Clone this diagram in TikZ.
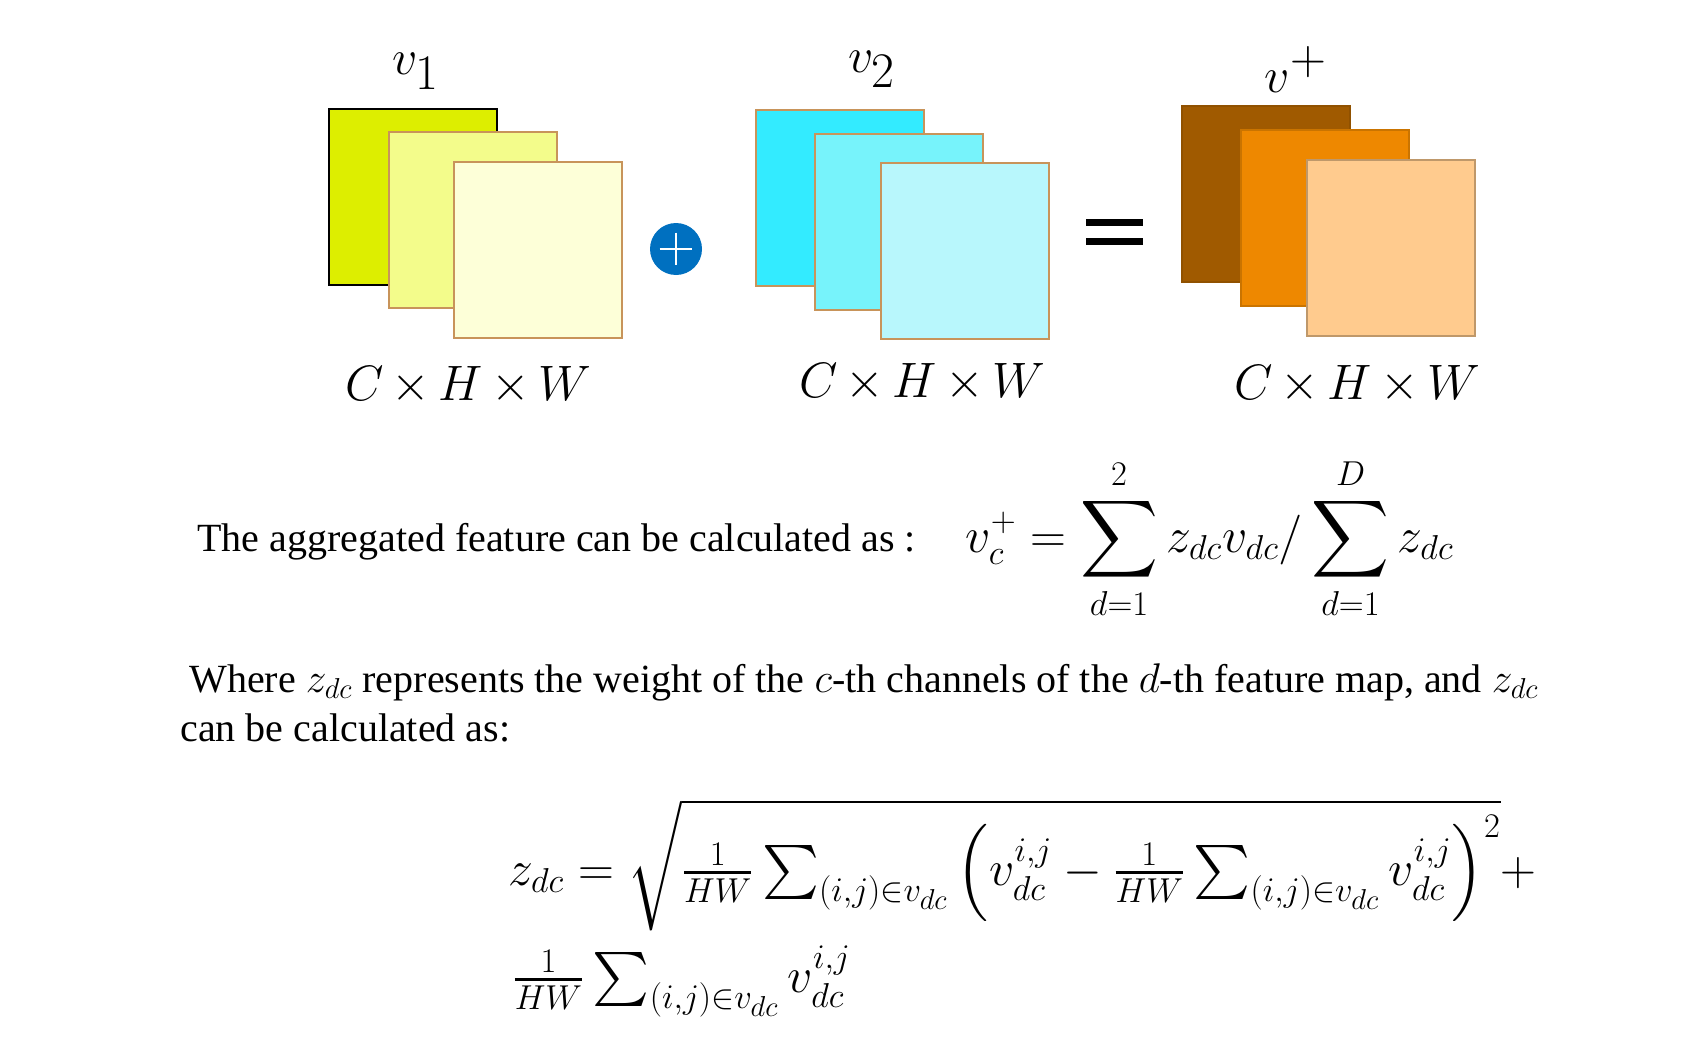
\documentclass[tikz,border=0pt]{standalone}
\usepackage[no-math]{fontspec}
\setmainfont{Liberation Serif}
\usepackage{amsmath,amssymb}
\usetikzlibrary{positioning}
\definecolor{ylwA}{HTML}{DDEE00}
\definecolor{ylwB}{HTML}{F3FC8B}
\definecolor{ylwC}{HTML}{FDFFD8}
\definecolor{cynA}{HTML}{33EBFF}
\definecolor{cynB}{HTML}{77F3FB}
\definecolor{cynC}{HTML}{B8F7FC}
\definecolor{orgA}{HTML}{A05A00}
\definecolor{orgB}{HTML}{EE8800}
\definecolor{orgC}{HTML}{FFCB8E}
\definecolor{mapedge}{HTML}{C8945A}
\definecolor{addblue}{HTML}{0070C0}
\newcommand{\tm}[1]{{\fontsize{21}{24}\selectfont$#1$}}

\begin{document}
\begin{tikzpicture}[
  x=0.5pt, y=-0.5pt,
  fmap/.style={draw=mapedge, line width=0.9pt, anchor=north west, inner sep=0pt, minimum width=84pt, minimum height=88pt},
  lbl/.style={anchor=base, inner sep=0pt, font=\fontsize{35}{38}\selectfont},
  dims/.style={anchor=base, inner sep=0pt, font=\fontsize{25}{28}\selectfont},
  txt/.style={anchor=base west, inner sep=0pt, font=\fontsize{20}{24}\selectfont},
  eqn/.style={anchor=base west, inner sep=0pt, font=\fontsize{27}{30}\selectfont},
  bar/.style={fill=black, inner sep=0pt, minimum width=28.5pt, minimum height=3.5pt},
  addop/.style={circle, fill=addblue, inner sep=0pt, minimum size=26pt}
]
  \useasboundingbox (0,0) rectangle (1696,1054);
  % first input
  \node[fmap, draw=black, fill=ylwA] (a1) at (328,108) {};
  \node[fmap, fill=ylwB] (a2) at (388,131) {};
  \node[fmap, fill=ylwC] (a3) at (453,161) {};
  \node[lbl] (va) at (416,75) {$v_1$};
  \node[dims] (da) at (468,400) {$C\,{\times}\,H\,{\times}\,W$};
  % second input
  \node[fmap, fill=cynA] (b1) at (755,109) {};
  \node[fmap, fill=cynB] (b2) at (814,133) {};
  \node[fmap, fill=cynC] (b3) at (880,162) {};
  \node[lbl] (vb) at (872,73) {$v_2$};
  \node[dims] (db) at (922,397) {$C\,{\times}\,H\,{\times}\,W$};
  % output
  \node[fmap, draw=orgA!90!black, fill=orgA] (c1) at (1181,105) {};
  \node[fmap, draw=orgB!85!black, fill=orgB] (c2) at (1240,129) {};
  \node[fmap, draw=orgC!75!black, fill=orgC] (c3) at (1306,159) {};
  \node[lbl] (vc) at (1296,93) {$v^{+}$};
  \node[dims] (dc) at (1357,399) {$C\,{\times}\,H\,{\times}\,W$};
  % operators
  \node[addop] (add) at (676,249) {};
  \draw[white, line width=1.2pt] ([xshift=5pt]add.west) -- ([xshift=-5pt]add.east);
  \draw[white, line width=1.2pt] ([yshift=-5pt]add.north) -- ([yshift=5pt]add.south);
  \node[bar] (eqtop) at (1114.5,222.5) {};
  \node[bar, below=5.5pt of eqtop] (eqbot) {};
  % formulas
  \node[txt] (agg) at (197,551) {The aggregated feature can be calculated as :};
  \node[eqn] (aggeq) at (965,552) {$\displaystyle v_c^{+} = \sum_{d=1}^{2} z_{dc}v_{dc}/\sum_{d=1}^{D} z_{dc}$};
  \node[txt] (where) at (189,692) {Where \tm{z_{dc}} represents the weight of the \tm{c}-th channels of the \tm{d}-th feature map, and \tm{z_{dc}}};
  \node[txt] (where2) at (180,741) {can be calculated as:};
  \node[eqn] (zeq) at (508,885) {$z_{dc} = \sqrt{\frac{1}{HW}\sum_{(i,j)\in v_{dc}} \left(v_{dc}^{i,j} - \frac{1}{HW}\sum_{(i,j)\in v_{dc}} v_{dc}^{i,j}\right)^{2}} +$};
  \node[eqn] (zeq2) at (512,992) {$\frac{1}{HW}\sum_{(i,j)\in v_{dc}} v_{dc}^{i,j}$};
\end{tikzpicture}
\end{document}
